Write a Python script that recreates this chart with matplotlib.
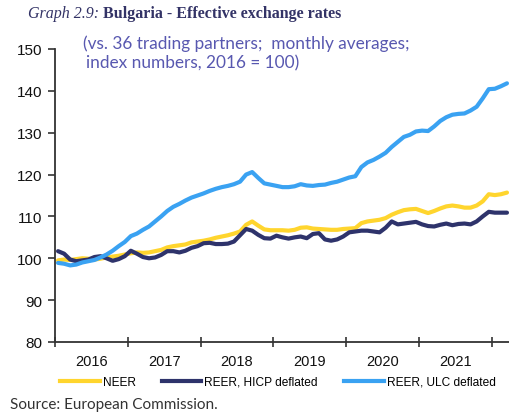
import matplotlib
matplotlib.use("Agg")
import matplotlib.pyplot as plt
from matplotlib.lines import Line2D
import numpy as np

years = ["2016", "2017", "2018", "2019", "2020", "2021"]

neer = [99.5, 99.7, 99.6, 99.8, 100.0, 99.9, 99.7, 99.9, 100.2, 100.4, 100.6, 100.9,
        101.2, 101.4, 101.3, 101.4, 101.7, 102.0, 102.6, 102.9, 103.1, 103.3, 103.8, 104.0,
        104.2, 104.5, 104.9, 105.2, 105.5, 105.9, 106.4, 108.0, 108.8, 107.8, 106.9, 106.7,
        106.7, 106.7, 106.6, 106.8, 107.3, 107.4, 107.1, 107.0, 106.9, 106.8, 106.8, 107.0,
        107.1, 107.2, 108.4, 108.8, 109.0, 109.2, 109.6, 110.4, 111.0, 111.5, 111.7, 111.8,
        111.3, 110.8, 111.3, 111.9, 112.4, 112.6, 112.4, 112.1, 112.1, 112.6, 113.6, 115.3,
        115.1, 115.3, 115.7]

reer_hicp = [101.7, 101.1, 99.7, 99.3, 99.5, 99.7, 100.3, 100.5, 100.0, 99.4, 99.8, 100.5,
             101.8, 101.1, 100.3, 100.0, 100.2, 100.8, 101.7, 101.7, 101.4, 101.8, 102.5, 102.9,
             103.6, 103.7, 103.4, 103.4, 103.5, 104.0, 105.5, 107.0, 106.6, 105.6, 104.8, 104.7,
             105.4, 105.0, 104.7, 105.0, 105.2, 104.8, 105.8, 106.0, 104.5, 104.2, 104.5, 105.2,
             106.2, 106.4, 106.6, 106.6, 106.4, 106.2, 107.3, 108.8, 108.1, 108.3, 108.5, 108.7,
             108.1, 107.7, 107.6, 108.0, 108.3, 107.9, 108.2, 108.3, 108.1, 108.8, 110.0, 111.1,
             110.9, 110.9, 110.9]

reer_ulc = [98.9, 98.7, 98.3, 98.5, 99.0, 99.3, 99.6, 100.2, 100.9, 101.8, 102.9, 103.9,
            105.3, 105.9, 106.8, 107.6, 108.8, 110.0, 111.3, 112.3, 113.0, 113.8, 114.5, 115.0,
            115.5, 116.1, 116.6, 117.0, 117.3, 117.7, 118.3, 120.0, 120.6, 119.2, 117.9, 117.6,
            117.3, 117.0, 117.0, 117.2, 117.7, 117.4, 117.3, 117.5, 117.6, 118.0, 118.3, 118.8,
            119.3, 119.6, 121.8, 122.9, 123.5, 124.3, 125.2, 126.6, 127.8, 129.0, 129.5, 130.3,
            130.5, 130.4, 131.5, 132.8, 133.7, 134.3, 134.5, 134.6, 135.3, 136.2, 138.2, 140.4,
            140.5, 141.1, 141.8]

series_labels = ["NEER", "REER, HICP deflated", "REER, ULC deflated"]
colors = ["#FFD52E", "#2E336B", "#3AA2F2"]

fig = plt.figure(figsize=(5.10, 4.14), dpi=100)
ax = fig.add_axes([55/510, 1-343/414, 1-55/510, (343-50)/414])

x = np.arange(len(neer)) + 0.5
for vals, c in zip([neer, reer_hicp, reer_ulc], colors):
    ax.plot(x, vals, color=c, lw=3.0, solid_capstyle="round", solid_joinstyle="round")

ax.set_xlim(0, 75)
ax.set_ylim(80, 150)
ax.set_yticks(range(80, 151, 10))
ax.set_xticks(range(0, 75, 12))
ax.set_xticks([12*i + 6 for i in range(len(years))], minor=True)
ax.set_xticklabels([])
ax.set_xticklabels(years, minor=True)
ax.tick_params(axis="x", which="minor", length=0, pad=9, labelsize=10.5,
               labelcolor="#111111")
ax.tick_params(axis="x", which="major", direction="inout", length=7, width=1.2,
               color="#333333")
ax.tick_params(axis="y", direction="out", length=5, width=1.2, color="#333333",
               labelsize=11, labelcolor="#111111", pad=4)
for lbl in ax.get_xticklabels(minor=True) + ax.get_yticklabels():
    lbl.set_fontfamily("Liberation Sans")
for s in ["top", "right"]:
    ax.spines[s].set_visible(False)
for s in ["left", "bottom"]:
    ax.spines[s].set_color("#333333")
    ax.spines[s].set_linewidth(1.3)

# Title (two styles on one line)
t1 = fig.text(28/510, 1-14/414, "Graph 2.9:", fontfamily="Liberation Serif", fontstyle="italic",
              fontsize=11.5, color="#333366", va="center", ha="left")
fig.canvas.draw()
bb = t1.get_window_extent()
fig.text((bb.x1 + 4)/510, 1-14/414, "Bulgaria - Effective exchange rates",
         fontfamily="Liberation Serif", fontweight="bold", fontsize=11.5, color="#333366",
         va="center", ha="left")

# Subtitle
fig.text(83/510, 1-44/414, "(vs. 36 trading partners;  monthly averages;", fontfamily="Lato",
         fontsize=12.4, color="#5858B0", va="center", ha="left")
fig.text(86/510, 1-63/414, "index numbers, 2016 = 100)", fontfamily="Lato",
         fontsize=12.4, color="#5858B0", va="center", ha="left")

# Legend
handles = [Line2D([0], [0], color=c, lw=3.0) for c in colors]
leg = fig.legend(handles, series_labels, loc="center", bbox_to_anchor=(0.545, 1-383/414),
                 ncol=3, frameon=False, handlelength=3.3, handletextpad=0.25,
                 columnspacing=2.2, prop={"family": "Liberation Sans", "size": 8.6})

fig.text(10/510, 1-405/414, "Source: European Commission.", fontfamily="Lato",
         fontsize=11, color="#333333", va="center", ha="left")

fig.savefig("out.png", dpi=100)
